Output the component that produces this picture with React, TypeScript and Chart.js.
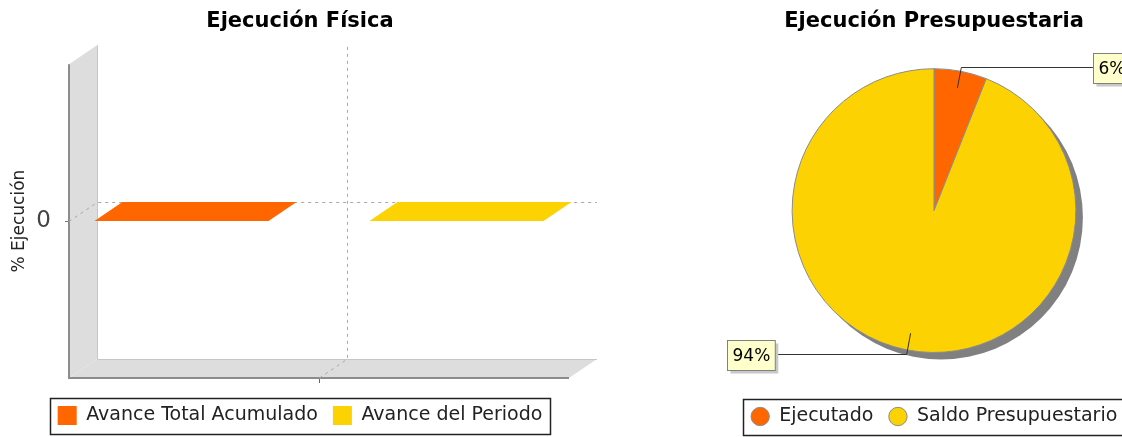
import React, { useEffect, useRef } from 'react';
import { Chart, registerables } from 'chart.js';

Chart.register(...registerables);

// ---------- data ----------
const barCategories = [''];
const barSeriesNames = ['Avance Total Acumulado', 'Avance del Periodo'];
const avanceTotalAcumulado = [0];
const avanceDelPeriodo = [0];
const yTickValues = [0];
const yRange = [-1, 1];

const pieLabels = ['Ejecutado', 'Saldo Presupuestario'];
const pieValues = [6, 94];

const barTitle = 'Ejecución Física';
const pieTitle = 'Ejecución Presupuestaria';
const yAxisTitle = '% Ejecución';

// ---------- styles ----------
const FONT = 'DejaVu Sans';
const ORANGE = '#FF6600';
const YELLOW = '#FCD202';
const DX = 28;
const DY = 19;

const bar3dPlugin = {
  id: 'bar3d',
  beforeDatasetsDraw(chart: any) {
    const { ctx, chartArea: a, scales } = chart;
    const L = a.left, R = a.right, T = a.top, B = a.bottom;
    ctx.save();
    ctx.fillStyle = '#DDDDDD';
    ctx.beginPath();
    ctx.moveTo(L, T); ctx.lineTo(L + DX, T - DY); ctx.lineTo(L + DX, B - DY); ctx.lineTo(L, B);
    ctx.closePath(); ctx.fill();
    ctx.beginPath();
    ctx.moveTo(L, B); ctx.lineTo(L + DX, B - DY); ctx.lineTo(R + DX, B - DY); ctx.lineTo(R, B);
    ctx.closePath(); ctx.fill();
    // back edges
    ctx.strokeStyle = '#C6C6C6'; ctx.lineWidth = 1;
    ctx.beginPath();
    ctx.moveTo(L + DX + 0.5, T - DY); ctx.lineTo(L + DX + 0.5, B - DY + 0.5); ctx.lineTo(R + DX, B - DY + 0.5);
    ctx.stroke();
    // front edges
    ctx.strokeStyle = '#8C8C8C'; ctx.lineWidth = 2;
    ctx.beginPath();
    ctx.moveTo(L, T); ctx.lineTo(L, B); ctx.lineTo(R, B);
    ctx.stroke();
    // gridlines
    ctx.setLineDash([3, 4]);
    ctx.strokeStyle = '#A8A8A8'; ctx.lineWidth = 1;
    yTickValues.forEach((v) => {
      const yv = Math.round(scales.y.getPixelForValue(v)) + 0.5;
      ctx.beginPath();
      ctx.moveTo(L, yv); ctx.lineTo(L + DX, yv - DY); ctx.lineTo(R + DX, yv - DY);
      ctx.stroke();
    });
    barCategories.forEach((_, i) => {
      const xv = Math.round(scales.x.getPixelForValue(i)) + 0.5;
      ctx.beginPath();
      ctx.moveTo(xv, B); ctx.lineTo(xv + DX, B - DY); ctx.lineTo(xv + DX, T - DY);
      ctx.stroke();
    });
    ctx.restore();
  },
  afterDatasetsDraw(chart: any) {
    const { ctx } = chart;
    ctx.save();
    chart.data.datasets.forEach((ds: any, di: number) => {
      const meta = chart.getDatasetMeta(di);
      meta.data.forEach((el: any) => {
        const { x, y, base, width } = el.getProps(['x', 'y', 'base', 'width'], true);
        const l = x - width / 2, r = x + width / 2;
        const top = Math.min(y, base), bot = Math.max(y, base);
        ctx.fillStyle = ds.backgroundColor;
        if (bot - top > 0.5) {
          ctx.fillRect(l, top, width, bot - top);
          ctx.beginPath();
          ctx.moveTo(r, top); ctx.lineTo(r + DX, top - DY); ctx.lineTo(r + DX, bot - DY); ctx.lineTo(r, bot);
          ctx.closePath(); ctx.fill();
        }
        ctx.beginPath();
        ctx.moveTo(l, top); ctx.lineTo(r, top); ctx.lineTo(r + DX, top - DY); ctx.lineTo(l + DX, top - DY);
        ctx.closePath(); ctx.fill();
      });
    });
    ctx.restore();
  },
};

const legendBoxPlugin = {
  id: 'legendBox',
  afterDraw(chart: any) {
    const lg = chart.legend;
    if (!lg || !lg.legendHitBoxes || !lg.legendHitBoxes.length) return;
    const hb = lg.legendHitBoxes;
    const first = hb[0], last = hb[hb.length - 1];
    const left = Math.round(first.left - 8) + 0.5;
    const right = Math.round(last.left + last.width + 8) + 0.5;
    const top = Math.round(first.top - 8) + 0.5;
    const bottom = Math.round(first.top + first.height + 9) + 0.5;
    const { ctx } = chart;
    ctx.save();
    ctx.strokeStyle = '#222'; ctx.lineWidth = 1.5;
    ctx.strokeRect(left, top, right - left, bottom - top);
    ctx.restore();
  },
};

const SHADOW = 7;
const pieDecorPlugin = {
  id: 'pieDecor',
  beforeDatasetsDraw(chart: any) {
    const meta = chart.getDatasetMeta(0);
    const arc = meta.data[0];
    if (!arc) return;
    const { x, y, outerRadius } = arc.getProps(['x', 'y', 'outerRadius'], true);
    const { ctx } = chart;
    ctx.save();
    ctx.fillStyle = '#808080';
    ctx.beginPath();
    ctx.arc(x + SHADOW, y + SHADOW, outerRadius, 0, Math.PI * 2);
    ctx.fill();
    ctx.restore();
  },
  afterDatasetsDraw(chart: any) {
    const meta = chart.getDatasetMeta(0);
    const values: number[] = chart.data.datasets[0].data;
    const total = values.reduce((s, v) => s + v, 0);
    const { ctx } = chart;
    ctx.save();
    meta.data.forEach((arc: any, i: number) => {
      const { x, y, startAngle, endAngle, outerRadius: R } = arc.getProps(['x', 'y', 'startAngle', 'endAngle', 'outerRadius'], true);
      const mid = (startAngle + endAngle) / 2;
      const c = Math.cos(mid), s = Math.sin(mid);
      const xi = x + c * (R - 17), yi = y + s * (R - 17);
      const xo = x + c * (R + 4), yo = Math.round(y + s * (R + 4)) + 0.5;
      const right = c >= 0;
      const boxEdge = right ? x + R + 17 : x - R - 17;
      ctx.strokeStyle = '#333'; ctx.lineWidth = 1;
      ctx.beginPath();
      ctx.moveTo(xi, yi); ctx.lineTo(xo, yo); ctx.lineTo(boxEdge, yo);
      ctx.stroke();
      const text = Math.round((values[i] / total) * 100) + '%';
      ctx.font = `17px "${FONT}"`;
      const tw = ctx.measureText(text).width;
      const w = tw + 10, h = 30;
      const bx = Math.round(right ? boxEdge : boxEdge - w) + 0.5;
      const by = Math.round(yo - h / 2) + 0.5;
      ctx.fillStyle = '#C8C8C8';
      ctx.fillRect(bx + 3, by + 3, w, h);
      ctx.fillStyle = '#FFFFCC';
      ctx.fillRect(bx, by, w, h);
      ctx.strokeStyle = '#808080';
      ctx.strokeRect(bx, by, w, h);
      ctx.fillStyle = '#000';
      ctx.textAlign = 'center';
      ctx.textBaseline = 'middle';
      ctx.fillText(text, bx + w / 2, by + h / 2 + 1);
    });
    ctx.restore();
  },
};

function BarChart() {
  const ref = useRef<HTMLCanvasElement>(null);
  useEffect(() => {
    const chart = new Chart(ref.current as HTMLCanvasElement, {
      type: 'bar',
      data: {
        labels: barCategories,
        datasets: [
          { label: barSeriesNames[0], data: avanceTotalAcumulado, backgroundColor: ORANGE, borderWidth: 0 },
          { label: barSeriesNames[1], data: avanceDelPeriodo, backgroundColor: YELLOW, borderWidth: 0 },
        ],
      },
      options: {
        responsive: false,
        animation: false,
        events: [],
        categoryPercentage: 1.1,
        barPercentage: 0.633,
        layout: { padding: { bottom: 2 } },
        plugins: {
          title: {
            display: true, text: barTitle, color: '#000',
            font: { family: FONT, size: 21, weight: 'bold' },
            padding: { top: 9, bottom: 30 },
          },
          legend: {
            position: 'bottom',
            labels: { boxWidth: 19, boxHeight: 19, padding: 15, color: '#222', font: { family: FONT, size: 19 } },
          },
          tooltip: { enabled: false },
        },
        scales: {
          x: {
            offset: true,
            grid: { display: true, drawOnChartArea: false, drawTicks: true, tickLength: 5, offset: false, color: '#666' },
            border: { display: false },
            ticks: { display: false },
            afterFit: (s: any) => { s.height = 13; },
          },
          y: {
            min: yRange[0], max: yRange[1],
            afterBuildTicks: (s: any) => { s.ticks = yTickValues.map((v) => ({ value: v })); },
            grid: { display: true, drawOnChartArea: false, drawTicks: true, tickLength: 4, color: '#777' },
            border: { display: false },
            ticks: { color: '#444', padding: 14, font: { family: FONT, size: 23 } },
            title: { display: true, text: yAxisTitle, color: '#222', font: { family: FONT, size: 17 }, padding: { top: 9, bottom: 0 } },
            afterFit: (s: any) => { s.width = 69; },
          },
          yRight: {
            type: 'linear', position: 'right', display: true,
            grid: { display: false }, border: { display: false }, ticks: { display: false },
            afterFit: (s: any) => { s.width = 31; },
          },
        },
      } as any,
      plugins: [bar3dPlugin, legendBoxPlugin],
    });
    return () => chart.destroy();
  }, []);
  return <canvas ref={ref} width={600} height={437} style={{ display: 'block' }} />;
}

function PieChart() {
  const ref = useRef<HTMLCanvasElement>(null);
  useEffect(() => {
    const chart = new Chart(ref.current as HTMLCanvasElement, {
      type: 'pie',
      data: {
        labels: pieLabels,
        datasets: [{ data: pieValues, backgroundColor: [ORANGE, YELLOW], borderColor: '#8C8C8C', borderWidth: 1 }],
      },
      options: {
        responsive: false,
        animation: false,
        events: [],
        layout: { padding: { bottom: 1 } },
        plugins: {
          title: {
            display: true, text: pieTitle, color: '#000',
            font: { family: FONT, size: 21, weight: 'bold' },
            padding: { top: 9, bottom: 34 },
          },
          legend: {
            position: 'bottom',
            title: { display: true, text: '', font: { size: 10 }, padding: { top: 27, bottom: 0 } },
            labels: { usePointStyle: true, pointStyle: 'circle', boxHeight: 13, padding: 15, color: '#222', font: { family: FONT, size: 19 } },
          },
          tooltip: { enabled: false },
        },
      } as any,
      plugins: [pieDecorPlugin, legendBoxPlugin],
    });
    return () => chart.destroy();
  }, []);
  return <canvas ref={ref} width={508} height={437} style={{ display: 'block' }} />;
}

export default function App() {
  return (
    <div style={{ position: 'absolute', left: 0, top: 0, width: 1122, height: 437, overflow: 'hidden', background: '#fff' }}>
      <div style={{ position: 'absolute', left: 0, top: 0, width: 600, height: 437 }}>
        <BarChart />
      </div>
      <div style={{ position: 'absolute', left: 680, top: 0, width: 508, height: 437 }}>
        <PieChart />
      </div>
    </div>
  );
}
